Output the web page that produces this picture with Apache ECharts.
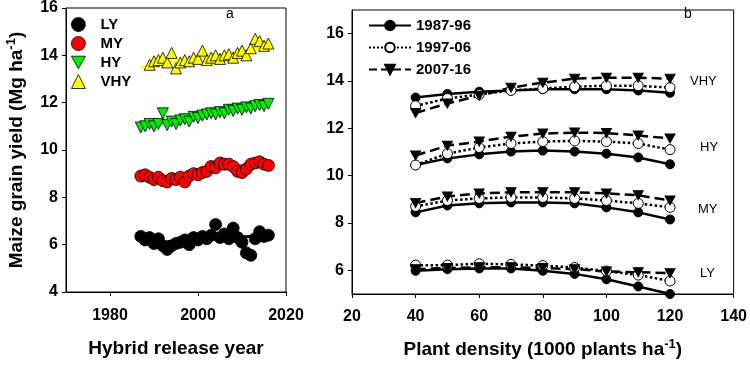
<!DOCTYPE html>
<html>
<head>
<meta charset="utf-8">
<script src="https://cdn.jsdelivr.net/npm/echarts@6/dist/echarts.min.js"></script>
<style>
  html, body { margin: 0; background: #fff; }
  #chart { width: 750px; height: 370px; }
</style>
</head>
<body>
<div id="chart"></div>
<script>
// panel a: yield by hybrid release year
const years = [1987, 1988, 1989, 1990, 1991, 1992, 1993, 1994, 1995, 1996, 1997, 1998, 1999, 2000, 2001,
               2002, 2003, 2004, 2005, 2006, 2007, 2008, 2009, 2010, 2011, 2012, 2013, 2014, 2015, 2016];
const vhyYears = [1989, 1990, 1991, 1992, 1993, 1994, 1995, 1996, 1997, 1998, 1999, 2000, 2001, 2002,
                  2003, 2004, 2005, 2006, 2007, 2008, 2009, 2010, 2011, 2012, 2013, 2014, 2015, 2016];
const ly = [6.35, 6.2, 6.3, 6.05, 6.25, 5.95, 5.8, 5.95, 6.05, 6.1, 6.2, 6.0, 6.3, 6.2, 6.35,
            6.25, 6.4, 6.85, 6.3, 6.45, 6.25, 6.7, 6.3, 6.1, 5.65, 5.55, 6.25, 6.55, 6.35, 6.4];
const my = [8.9, 8.95, 8.85, 8.75, 8.85, 8.7, 8.65, 8.8, 8.75, 8.85, 8.65, 8.9, 9.0, 8.95, 9.05,
            9.1, 9.3, 9.25, 9.45, 9.4, 9.4, 9.3, 9.1, 9.05, 9.2, 9.4, 9.45, 9.5, 9.4, 9.35];
const hy = [10.95, 11.0, 11.1, 11.0, 11.1, 11.55, 11.05, 11.2, 11.1, 11.25, 11.3, 11.2, 11.4, 11.35, 11.45,
            11.5, 11.55, 11.5, 11.6, 11.55, 11.7, 11.65, 11.75, 11.7, 11.8, 11.75, 11.85, 11.9, 11.85, 11.95];
const vhy = [13.6, 13.75, 13.8, 13.9, 13.7, 14.1, 13.45, 13.7, 13.8, 13.75, 13.9, 13.85, 14.2, 13.8,
             13.9, 14.0, 13.85, 14.0, 14.05, 13.9, 14.1, 14.2, 14.0, 14.3, 14.7, 14.6, 14.4, 14.5];
// fitted trend lines (start, end)
const trendYears = [1987, 2016];
const trendLY = [6.05, 6.4];
const trendMY = [8.7, 9.5];
const trendHY = [10.95, 12.05];
const trendVHY = [13.5, 14.35];

// panel b: yield by plant density
const density = [40, 50, 60, 70, 80, 90, 100, 110, 120];
const periods = ['1987-96', '1997-06', '2007-16'];
const lyB = [
  [5.98, 6.05, 6.08, 6.08, 5.98, 5.85, 5.62, 5.32, 5.0],
  [6.22, 6.22, 6.28, 6.25, 6.2, 6.12, 5.97, 5.8, 5.55],
  [6.05, 6.1, 6.13, 6.13, 6.1, 6.05, 5.95, 5.92, 5.88]
];
const myB = [
  [8.45, 8.74, 8.83, 8.87, 8.87, 8.83, 8.66, 8.45, 8.15],
  [8.7, 8.95, 9.04, 9.08, 9.08, 9.04, 8.95, 8.83, 8.66],
  [8.85, 9.12, 9.25, 9.3, 9.3, 9.3, 9.25, 9.17, 8.95]
];
const hyB = [
  [10.45, 10.73, 10.9, 11.02, 11.06, 11.02, 10.93, 10.77, 10.48],
  [10.45, 10.93, 11.19, 11.36, 11.44, 11.47, 11.44, 11.36, 11.1],
  [10.85, 11.27, 11.44, 11.65, 11.78, 11.82, 11.8, 11.7, 11.57]
];
const vhyB = [
  [13.3, 13.45, 13.55, 13.6, 13.65, 13.65, 13.65, 13.6, 13.5],
  [12.95, 13.26, 13.43, 13.6, 13.68, 13.76, 13.8, 13.8, 13.72],
  [12.65, 13.05, 13.38, 13.72, 13.93, 14.1, 14.14, 14.14, 14.1]
];

const FONT = 'Liberation Sans, Arial, sans-serif';
const DOWN_TRI = 'path://M0,0 L10,0 L5,9 Z';
const pair = (xs, ys) => xs.map((x, i) => [x, ys[i]]);

let chart = echarts.init(document.getElementById('chart'));

let axisCommon = {
  axisLine: { lineStyle: { color: '#000', width: 1 } },
  axisTick: { inside: false, length: 4, lineStyle: { color: '#000' } },
  axisLabel: { color: '#000', fontFamily: FONT, fontWeight: 'bold', fontSize: 16 },
  splitLine: { show: false },
  nameTextStyle: { color: '#000', fontFamily: FONT, fontWeight: 'bold', fontSize: 19 }
};
let supRich = { sup: { fontFamily: FONT, fontWeight: 'bold', fontSize: 13, color: '#000', padding: [0, 0, 10, 0] } };

function scatter(name, xs, ys, color, symbol) {
  return {
    name: name, type: 'scatter', xAxisIndex: 0, yAxisIndex: 0,
    data: pair(xs, ys), symbol: symbol, symbolSize: symbol === 'circle' ? 12 : 11,
    itemStyle: { color: color, borderColor: '#000', borderWidth: 0.8, opacity: 1 }, z: 3
  };
}
function trend(ys, color) {
  return {
    type: 'line', xAxisIndex: 0, yAxisIndex: 0, data: pair(trendYears, ys),
    symbol: 'none', lineStyle: { color: color, width: 3 }, z: 2, silent: true
  };
}

let styles = [
  { type: 'solid', symbol: 'circle', size: 9, fill: '#000' },
  { type: 'dotted', symbol: 'circle', size: 10, fill: '#fff' },
  { type: 'dashed', symbol: DOWN_TRI, size: [10, 9], fill: '#000' }
];
let bSeries = [];
[lyB, myB, hyB, vhyB].forEach(group => {
  group.forEach((vals, p) => {
    let s = styles[p];
    bSeries.push({
      name: periods[p], type: 'line', xAxisIndex: 1, yAxisIndex: 1,
      data: pair(density, vals), symbol: s.symbol, symbolSize: s.size,
      showAllSymbol: true,
      lineStyle: { color: '#000', width: 2.5, type: s.type },
      itemStyle: { color: s.fill, borderColor: '#000', borderWidth: 1 }
    });
  });
});

let option = {
  backgroundColor: '#fff',
  animation: false,
  grid: [
    { left: 66, right: 464, top: 8, bottom: 78, show: true, borderColor: '#000', borderWidth: 1 },
    { left: 352, right: 15, top: 10, bottom: 76, show: true, borderColor: '#000', borderWidth: 1 }
  ],
  xAxis: [
    Object.assign({}, axisCommon, {
      gridIndex: 0, type: 'value', min: 1970, max: 2020,
      axisTick: Object.assign({}, axisCommon.axisTick, { customValues: [1980, 2000, 2020] }),
      axisLabel: Object.assign({}, axisCommon.axisLabel, {
        customValues: [1980, 2000, 2020], margin: 16, formatter: v => String(v)
      }),
      name: 'Hybrid release year', nameLocation: 'middle', nameGap: 47
    }),
    Object.assign({}, axisCommon, {
      gridIndex: 1, type: 'value', min: 20, max: 140, interval: 20,
      axisLabel: Object.assign({}, axisCommon.axisLabel, { margin: 15 }),
      name: 'Plant density (1000 plants ha{sup|-1})', nameLocation: 'middle', nameGap: 44,
      nameTextStyle: Object.assign({}, axisCommon.nameTextStyle, { rich: supRich })
    })
  ],
  yAxis: [
    Object.assign({}, axisCommon, {
      gridIndex: 0, type: 'value', min: 4, max: 16, interval: 2,
      axisLabel: Object.assign({}, axisCommon.axisLabel, { margin: 8 }),
      name: 'Maize grain yield (Mg ha{sup|-1})', nameLocation: 'middle', nameRotate: 90, nameGap: 38,
      nameTextStyle: Object.assign({}, axisCommon.nameTextStyle, { rich: supRich })
    }),
    Object.assign({}, axisCommon, {
      gridIndex: 1, type: 'value', min: 5, max: 17,
      axisTick: Object.assign({}, axisCommon.axisTick, { customValues: [6, 8, 10, 12, 14, 16] }),
      axisLabel: Object.assign({}, axisCommon.axisLabel, { customValues: [6, 8, 10, 12, 14, 16], margin: 8 })
    })
  ],
  legend: [
    {
      data: ['LY', 'MY', { name: 'HY', icon: DOWN_TRI }, 'VHY'],
      orient: 'vertical', left: 66, top: 12,
      itemWidth: 14, itemHeight: 14, itemGap: 4,
      itemStyle: { borderWidth: 0.8, borderColor: '#000', opacity: 1 },
      textStyle: { color: '#000', fontFamily: FONT, fontWeight: 'bold', fontSize: 15, padding: [0, 0, 0, 10] }
    },
    {
      data: periods, orient: 'vertical', left: 363, top: 13,
      itemWidth: 42, itemHeight: 12, itemGap: 7,
      textStyle: { color: '#000', fontFamily: FONT, fontWeight: 'bold', fontSize: 15 }
    }
  ],
  graphic: [
    { type: 'text', left: 226, top: 7, style: { text: 'a', font: '14px ' + FONT, fill: '#000' } },
    { type: 'text', left: 684, top: 7, style: { text: 'b', font: '14px ' + FONT, fill: '#000' } },
    { type: 'text', left: 690, top: 75, style: { text: 'VHY', font: '13px ' + FONT, fill: '#000' } },
    { type: 'text', left: 700, top: 141, style: { text: 'HY', font: '13px ' + FONT, fill: '#000' } },
    { type: 'text', left: 698, top: 203, style: { text: 'MY', font: '13px ' + FONT, fill: '#000' } },
    { type: 'text', left: 700, top: 267, style: { text: 'LY', font: '13px ' + FONT, fill: '#000' } }
  ],
  series: [
    trend(trendLY, '#000'),
    trend(trendMY, '#ff0000'),
    trend(trendHY, '#00ee00'),
    trend(trendVHY, '#ffff00'),
    scatter('LY', years, ly, '#000', 'circle'),
    scatter('MY', years, my, '#ff0000', 'circle'),
    scatter('HY', years, hy, '#00ee00', DOWN_TRI),
    scatter('VHY', vhyYears, vhy, '#ffff00', 'triangle')
  ].concat(bSeries)
};

chart.setOption(option);
</script>
</body>
</html>
